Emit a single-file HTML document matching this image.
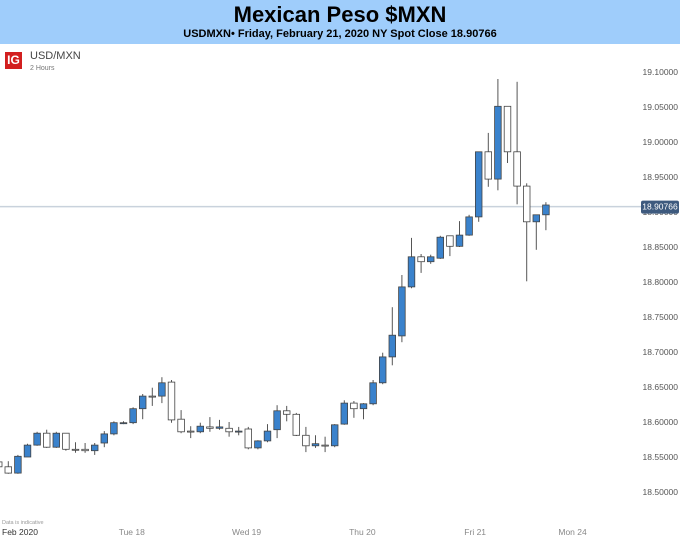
<!DOCTYPE html>
<html><head><meta charset="utf-8"><style>
body{margin:0;width:680px;height:538px;background:#fff;font-family:"Liberation Sans",sans-serif;overflow:hidden;position:relative}
.hdr{position:absolute;left:0;top:0;width:680px;height:44px;background:#9fcdfb}
.t{position:absolute;left:0;width:680px;text-align:center;font-weight:bold;color:#000}
</style></head><body>
<div class="hdr">
<div class="t" style="top:2px;font-size:22px">Mexican Peso $MXN</div>
<div class="t" style="top:28px;font-size:11px">USDMXN• Friday, February 21, 2020 NY Spot Close 18.90766</div>
</div>
<div style="position:absolute;left:5px;top:52px;width:17px;height:17px;background:#d21f1f;color:#fff;font-size:12px;font-weight:bold;line-height:17px;text-align:center">IG</div>
<div style="position:absolute;left:30px;top:50px;font-size:11px;color:#444">USD/MXN</div>
<div style="position:absolute;left:30px;top:65px;font-size:7px;color:#777">2 Hours</div>
<svg id="ch" width="680" height="538" style="position:absolute;left:0;top:0"></svg>
<script>
const opens=[18.543,18.536,18.527,18.550,18.567,18.584,18.564,18.584,18.561,18.561,18.559,18.570,18.583,18.598,18.599,18.619,18.637,18.637,18.657,18.604,18.587,18.586,18.593,18.591,18.591,18.586,18.590,18.563,18.573,18.589,18.616,18.611,18.581,18.566,18.567,18.566,18.597,18.627,18.619,18.626,18.656,18.693,18.723,18.793,18.836,18.829,18.834,18.866,18.851,18.867,18.893,18.986,18.947,19.051,18.986,18.937,18.886,18.896];
const highs=[18.546,18.544,18.553,18.569,18.586,18.589,18.586,18.584,18.571,18.570,18.570,18.587,18.601,18.601,18.621,18.640,18.649,18.664,18.660,18.617,18.594,18.599,18.607,18.603,18.600,18.593,18.593,18.574,18.597,18.624,18.623,18.613,18.593,18.581,18.579,18.597,18.631,18.630,18.627,18.660,18.699,18.764,18.810,18.863,18.840,18.839,18.866,18.866,18.887,18.896,18.986,19.013,19.090,19.051,19.086,18.941,18.896,18.914];
const lows=[18.533,18.526,18.526,18.550,18.566,18.563,18.563,18.559,18.556,18.556,18.553,18.564,18.581,18.597,18.597,18.604,18.623,18.627,18.599,18.584,18.577,18.584,18.586,18.589,18.579,18.581,18.561,18.561,18.571,18.577,18.601,18.580,18.557,18.563,18.557,18.564,18.596,18.606,18.604,18.624,18.654,18.681,18.714,18.791,18.813,18.826,18.833,18.837,18.850,18.866,18.886,18.936,18.931,18.970,18.911,18.801,18.846,18.874];
const closes=[18.536,18.527,18.551,18.567,18.584,18.564,18.584,18.561,18.560,18.559,18.567,18.583,18.599,18.599,18.619,18.637,18.636,18.656,18.603,18.586,18.586,18.594,18.591,18.593,18.586,18.587,18.563,18.573,18.587,18.616,18.611,18.581,18.566,18.569,18.566,18.596,18.627,18.619,18.626,18.656,18.693,18.724,18.793,18.836,18.829,18.836,18.864,18.851,18.867,18.893,18.986,18.947,19.051,18.986,18.937,18.886,18.896,18.910];
const yTicks=[19.10,19.05,19.00,18.95,18.90,18.85,18.80,18.75,18.70,18.65,18.60,18.55,18.50];
const xLabels=["Feb 2020","Tue 18","Wed 19","Thu 20","Fri 21","Mon 24"];
const xLabelIdx=[0,12.5,24.3,36.5,48.5,58.3];
const lastPrice=18.90766;
const NS="http://www.w3.org/2000/svg",svg=document.getElementById('ch');
const y=v=>72+(19.10-v)*700;
const x=i=>-1.3+i*9.6;
function mk(t,a){const e=document.createElementNS(NS,t);for(const k in a)e.setAttribute(k,a[k]);svg.appendChild(e);return e;}
yTicks.forEach(v=>{
  const t=mk('text',{x:678,y:y(v)+3,'text-anchor':'end','font-size':'8.5','fill':'#555','font-family':'Liberation Sans, sans-serif'});
  t.textContent=v.toFixed(5);
  
  
});
xLabels.forEach((s,k)=>{
  const t=mk('text',{x:k==0?2:x(xLabelIdx[k]),y:535,'font-size':'8.5','fill':k==0?'#333':'#888','font-family':'Liberation Sans, sans-serif'});
  t.textContent=s;
  
  
});
const note=mk('text',{x:2,y:524,'font-size':'5.5','fill':'#999','font-family':'Liberation Sans, sans-serif'});
note.textContent='Data is indicative';


const pl=mk('line',{x1:0,x2:641,y1:y(lastPrice),y2:y(lastPrice),stroke:'#c9d2dc','stroke-width':1.5});


opens.forEach((o,i)=>{
  const c=closes[i],up=c>=o,cx=x(i);
  const w=mk('line',{x1:cx,x2:cx,y1:y(highs[i]),y2:y(lows[i]),stroke:'#555','stroke-width':1});
  
  
  const top=y(Math.max(o,c)),h=Math.max(1,Math.abs(y(o)-y(c)));
  const b=mk('rect',{x:cx-3.3,y:top,width:6.6,height:h,fill:up?'#3a82cc':'#fff',stroke:'#444','stroke-width':0.8});
  
  
});
const tag=mk('rect',{x:641,y:y(lastPrice)-6,width:38,height:13,rx:2,fill:'#3e5a7e'});


const tt=mk('text',{x:660,y:y(lastPrice)+3,'text-anchor':'middle','font-size':'8.5','fill':'#fff','font-family':'Liberation Sans, sans-serif'});
tt.textContent=lastPrice.toFixed(5);


</script>
</body></html>
